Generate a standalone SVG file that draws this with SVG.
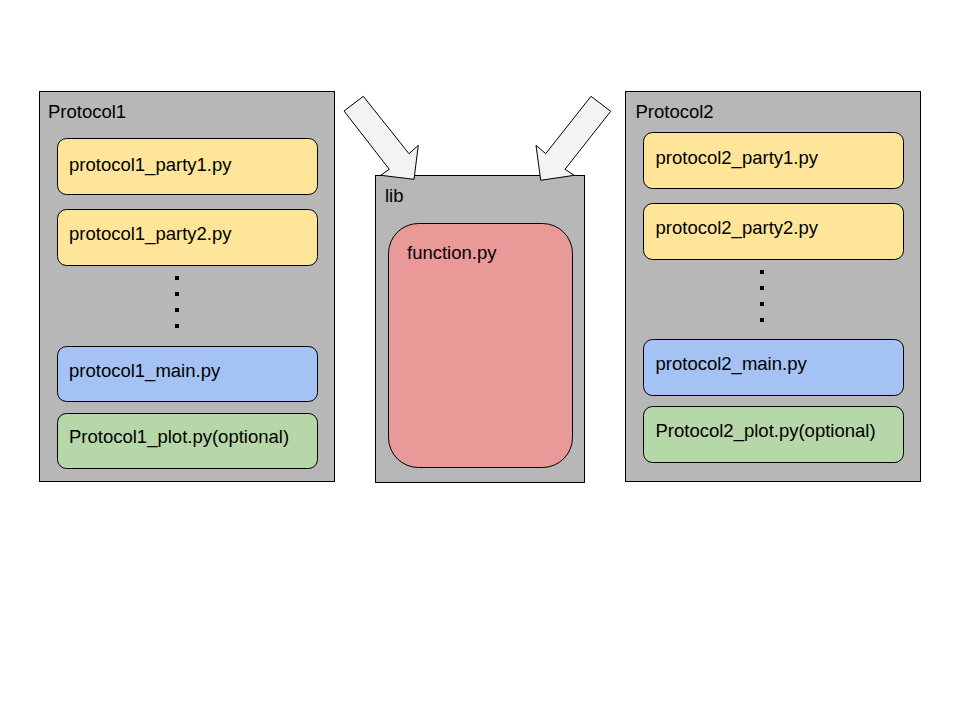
<svg xmlns="http://www.w3.org/2000/svg" width="960" height="720" viewBox="0 0 960 720">
<style>
text{font-family:"Liberation Sans",Arial,sans-serif;font-size:18.5px;fill:#000}
.cont{fill:#b7b7b7;stroke:#000;stroke-width:1}
.file{stroke:#000;stroke-width:1}
.y{fill:#ffe599}.b{fill:#a4c2f4}.g{fill:#b6d7a8}.r{fill:#ea9999}
.dot{fill:#000}
.arrow{fill:#f3f3f3;stroke:#000;stroke-width:1;stroke-linejoin:miter}
</style>
<rect width="960" height="720" fill="#fff"/>
<g id="protocol1">
<rect class="cont" x="39.5" y="91.5" width="295" height="390"/>
<text x="48" y="118">Protocol1</text>
<g id="protocol1_party1"><rect class="file y" x="57.5" y="138.5" width="260" height="56" rx="9"/><text x="69" y="171">protocol1_party1.py</text></g>
<g id="protocol1_party2"><rect class="file y" x="57.5" y="209.5" width="260" height="56" rx="9"/><text x="69" y="240">protocol1_party2.py</text></g>
<g id="protocol1_dots"><rect class="dot" x="175" y="276" width="4" height="4"/><rect class="dot" x="175" y="292" width="4" height="4"/><rect class="dot" x="175" y="308" width="4" height="4"/><rect class="dot" x="175" y="324" width="4" height="4"/></g>
<g id="protocol1_main"><rect class="file b" x="57.5" y="346.5" width="260" height="55" rx="9"/><text x="69" y="376.5">protocol1_main.py</text></g>
<g id="protocol1_plot"><rect class="file g" x="57.5" y="413.5" width="260" height="55" rx="9"/><text x="69" y="442.5">Protocol1_plot.py(optional)</text></g>
</g>
<g id="lib">
<rect class="cont" x="375.5" y="175.5" width="209" height="307"/>
<text x="385" y="202">lib</text>
<g id="function"><rect class="file r" x="388.5" y="223.5" width="184" height="244" rx="30"/><text x="407" y="259">function.py</text></g>
</g>
<g id="protocol2">
<rect class="cont" x="625.5" y="91.5" width="295" height="390"/>
<text x="635.5" y="118">Protocol2</text>
<g id="protocol2_party1"><rect class="file y" x="643.5" y="132.5" width="260" height="56" rx="9"/><text x="655.5" y="163.5">protocol2_party1.py</text></g>
<g id="protocol2_party2"><rect class="file y" x="643.5" y="203.5" width="260" height="56" rx="9"/><text x="655.5" y="234">protocol2_party2.py</text></g>
<g id="protocol2_dots"><rect class="dot" x="760" y="270" width="4" height="4"/><rect class="dot" x="760" y="286" width="4" height="4"/><rect class="dot" x="760" y="302" width="4" height="4"/><rect class="dot" x="760" y="318" width="4" height="4"/></g>
<g id="protocol2_main"><rect class="file b" x="643.5" y="339.5" width="260" height="56" rx="9"/><text x="655.5" y="370">protocol2_main.py</text></g>
<g id="protocol2_plot"><rect class="file g" x="643.5" y="406.5" width="260" height="56" rx="9"/><text x="655.5" y="436.5">Protocol2_plot.py(optional)</text></g>
</g>
<g id="connectors">
<polygon class="arrow" points="363.3,96.3 344,111 389.3,169.3 380.7,175.3 414,179.3 418.3,145.3 409,153.7"/>
<polygon class="arrow" points="591,96.3 610.7,111.3 565,169.3 574.3,175.3 540.7,180.3 536,145.3 545.7,153.7"/>
</g>
</svg>
